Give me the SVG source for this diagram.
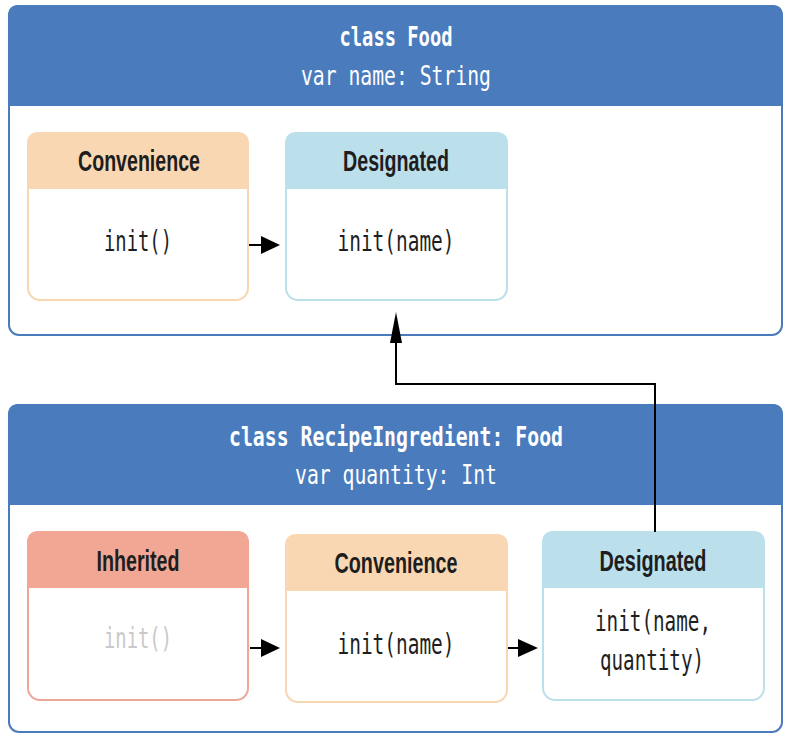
<svg xmlns="http://www.w3.org/2000/svg" width="787" height="734" viewBox="0 0 787 734">
<style>
.outer{fill:#ffffff;stroke:#4a7bbd;stroke-width:2}
.hdr{fill:#4a7bbd}
.ht{font-family:"DejaVu Sans Mono","Liberation Mono",monospace;font-size:27px;fill:#ffffff;text-anchor:middle}
.htb{font-weight:bold}
.box{fill:#ffffff;stroke-width:2}
.conv{stroke:#f8d6b2}
.convh{fill:#f9d7b3}
.des{stroke:#bcdfea}
.desh{fill:#bcdfec}
.inh{stroke:#eea796}
.inhh{fill:#f2a795}
.lab{font-family:"Liberation Sans",Arial,sans-serif;font-weight:bold;font-size:30px;fill:#1e1e1e;text-anchor:middle}
.code{font-family:"DejaVu Sans Mono","Liberation Mono",monospace;font-size:28px;fill:#1e1e1e;text-anchor:middle}
.grey{fill:#c9c9c9}
.ln{fill:none;stroke:#000000;stroke-width:2}
.ah{fill:#000000}
</style>
<g id="class-food">
<rect class="outer" x="9" y="6" width="773" height="329" rx="10"/>
<path class="hdr" d="M8,106 V16 Q8,5 19,5 H772 Q783,5 783,16 V106 Z"/>
<text class="ht htb" x="396" y="46" textLength="113" lengthAdjust="spacingAndGlyphs">class Food</text>
<text class="ht" x="396" y="85" textLength="190" lengthAdjust="spacingAndGlyphs">var name: String</text>
</g>
<g id="food-convenience">
<rect class="box conv" x="28" y="133" width="220" height="167" rx="12"/>
<path class="convh" d="M27,189 V144 Q27,132 39,132 H237 Q249,132 249,144 V189 Z"/>
<text class="lab" x="139" y="171" textLength="122" lengthAdjust="spacingAndGlyphs">Convenience</text>
<text class="code" x="138" y="251" textLength="68" lengthAdjust="spacingAndGlyphs">init()</text>
</g>
<g id="food-designated">
<rect class="box des" x="286" y="133" width="221" height="167" rx="12"/>
<path class="desh" d="M285,189 V144 Q285,132 297,132 H496 Q508,132 508,144 V189 Z"/>
<text class="lab" x="396" y="171" textLength="106" lengthAdjust="spacingAndGlyphs">Designated</text>
<text class="code" x="396" y="251" textLength="117" lengthAdjust="spacingAndGlyphs">init(name)</text>
</g>
<g id="class-recipe">
<rect class="outer" x="9" y="405" width="773" height="327" rx="10"/>
<path class="hdr" d="M8,505 V415 Q8,404 19,404 H772 Q783,404 783,415 V505 Z"/>
<text class="ht htb" x="396" y="446" textLength="334" lengthAdjust="spacingAndGlyphs">class RecipeIngredient: Food</text>
<text class="ht" x="396" y="484" textLength="202" lengthAdjust="spacingAndGlyphs">var quantity: Int</text>
</g>
<g id="recipe-inherited">
<rect class="box inh" x="28" y="532" width="220" height="168" rx="12"/>
<path class="inhh" d="M27,588 V543 Q27,531 39,531 H237 Q249,531 249,543 V588 Z"/>
<text class="lab" x="138" y="571" textLength="83" lengthAdjust="spacingAndGlyphs">Inherited</text>
<text class="code grey" x="138" y="648" textLength="68" lengthAdjust="spacingAndGlyphs">init()</text>
</g>
<g id="recipe-convenience">
<rect class="box conv" x="286" y="535" width="221" height="167" rx="12"/>
<path class="convh" d="M285,591 V546 Q285,534 297,534 H496 Q508,534 508,546 V591 Z"/>
<text class="lab" x="396" y="573" textLength="123" lengthAdjust="spacingAndGlyphs">Convenience</text>
<text class="code" x="396" y="654" textLength="117" lengthAdjust="spacingAndGlyphs">init(name)</text>
</g>
<g id="recipe-designated">
<rect class="box des" x="543" y="532" width="221" height="168" rx="12"/>
<path class="desh" d="M542,588 V543 Q542,531 554,531 H753 Q765,531 765,543 V588 Z"/>
<text class="lab" x="653" y="571" textLength="107" lengthAdjust="spacingAndGlyphs">Designated</text>
<text class="code" x="653" y="631" textLength="116" lengthAdjust="spacingAndGlyphs">init(name,</text>
<text class="code" x="652" y="670" textLength="104" lengthAdjust="spacingAndGlyphs">quantity)</text>
</g>
<g id="connectors">
<path class="ln" d="M249,245 H264"/>
<polygon class="ah" points="261,236 280,245 261,254"/>
<path class="ln" d="M250,648 H264"/>
<polygon class="ah" points="261,639 280,648 261,657"/>
<path class="ln" d="M508,648 H521"/>
<polygon class="ah" points="518,639 538,648 518,657"/>
<path class="ln" d="M655,532 V384 H396 V340"/>
<polygon class="ah" points="390,343 396,312 402,343"/>
</g>
</svg>
